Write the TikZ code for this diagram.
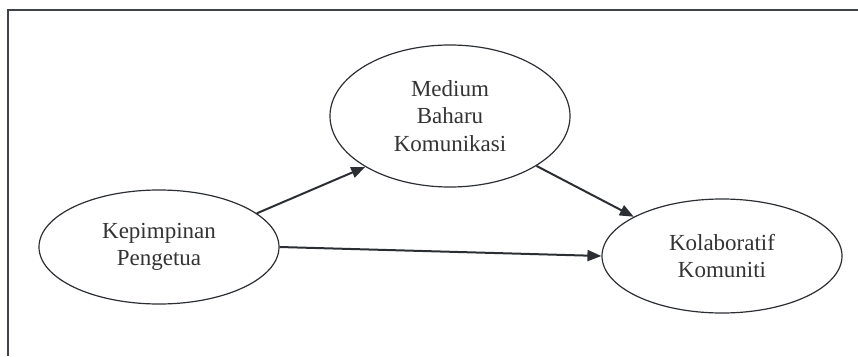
\documentclass[tikz,border=0pt]{standalone}
\usepackage{fontspec}
\setmainfont{Liberation Serif}
\usetikzlibrary{positioning,shapes.geometric,arrows.meta}

\definecolor{ink}{HTML}{2B2E33}
\definecolor{txt}{HTML}{333333}

\tikzset{
  blob/.style={ellipse, draw=ink, line width=1.2pt, minimum width=240pt,
    minimum height=114pt, inner sep=0pt, align=center, text=txt,
    font=\fontsize{23}{27.5}\selectfont},
  link/.style={draw=ink, line width=2pt, -{Triangle[length=14pt, width=11pt]}},
}

\begin{document}
\begin{tikzpicture}[x=1pt, y=-1pt]
    \useasboundingbox (0,0) rectangle (858,356);
    \draw[ink!90, line width=2pt] (8,356) -- (8,10) -- (858,10); % frame, cut at right and bottom

    \node[blob] (kep) at (159,247) {Kepimpinan\\Pengetua};
    \node[blob, minimum height=142pt] (med) [above right=131pt and 291pt of kep.center, anchor=center] {Medium\\Baharu\\Komunikasi};
    \node[blob] (kol) [below right=9pt and 563pt of kep.center, anchor=center] {Kolaboratif\\Komuniti};

    \draw[link] (kep.19) -- (med.211);
    \draw[link] (kep.east) -- (kol.west);
    \draw[link] (med.-30) -- (kol.156);
\end{tikzpicture}
\end{document}
